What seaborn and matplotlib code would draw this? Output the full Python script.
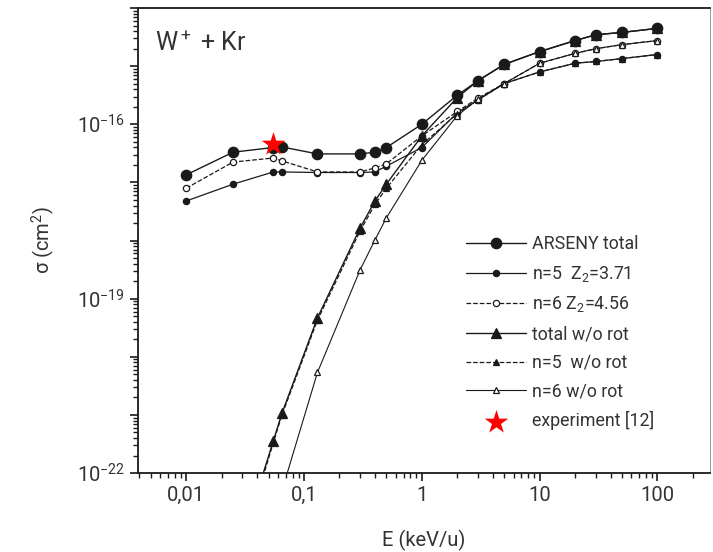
import matplotlib
matplotlib.use("Agg")
import matplotlib.pyplot as plt
import matplotlib.ticker as mticker
import numpy as np
import seaborn as sns

# energies (keV/u)
E_rot = [0.01, 0.025, 0.055, 0.065, 0.13, 0.3, 0.4, 0.5, 1, 2, 3, 5, 10, 20, 30, 50, 100]
E_wo = [0.04, 0.055, 0.065, 0.13, 0.3, 0.4, 0.5, 1, 2, 3, 5, 10, 20, 30, 50, 100]

# log10 of cross sections (cm^2)
log_total = [-16.87, -16.48, -16.40, -16.39, -16.51, -16.51, -16.48, -16.40, -16.0,
             -15.50, -15.25, -14.97, -14.75, -14.56, -14.46, -14.42, -14.35]
log_n5 = [-17.32, -17.03, -16.82, -16.82, -16.83, -16.83, -16.82, -16.72, -16.40,
          -15.80, -15.58, -15.30, -15.10, -14.95, -14.92, -14.87, -14.80]
log_n6 = [-17.10, -16.65, -16.58, -16.63, -16.82, -16.82, -16.75, -16.68, -16.20,
          -15.78, -15.55, -15.30, -14.95, -14.78, -14.70, -14.63, -14.56]
log_total_wo = [-22.34, -21.44, -20.97, -19.33, -17.78, -17.32, -17.03, -16.20,
                -15.54, -15.25, -14.97, -14.75, -14.56, -14.46, -14.42, -14.35]
log_n5_wo = [-22.40, -21.47, -21.00, -19.37, -17.83, -17.38, -17.10, -16.35,
             -15.82, -15.58, -15.30, -15.10, -14.95, -14.92, -14.87, -14.80]
log_n6_wo = [-23.80, -22.90, -22.30, -20.27, -18.50, -17.99, -17.61, -16.62,
             -15.85, -15.57, -15.30, -14.95, -14.78, -14.70, -14.63, -14.56]

E_exp = [0.055]
sigma_exp = [4.6e-17]

labels = ["ARSENY total", "n=5  Z$_2$=3.71", "n=6 Z$_2$=4.56",
          "total w/o rot", "n=5  w/o rot", "n=6 w/o rot", "experiment [12]"]

sns.set_theme(style="ticks")
plt.rcParams["font.family"] = ["Roboto", "DejaVu Sans"]
plt.rcParams["mathtext.fontset"] = "custom"
plt.rcParams["mathtext.rm"] = "Roboto"
plt.rcParams["mathtext.it"] = "Roboto:italic"
plt.rcParams["mathtext.default"] = "regular"

txt = "#333333"
ln = "#1a1a1a"

fig = plt.figure(figsize=(7.13, 5.52), dpi=100)
ax = fig.add_axes([0.1936, 0.143, 0.8024, 0.8425])

series = [
    (E_rot, log_total, dict(marker="o", markersize=7.5, linestyle="-", mfc=ln, lw=1.0)),
    (E_rot, log_n5, dict(marker="o", markersize=4.5, linestyle="-", mfc=ln, lw=0.9)),
    (E_rot, log_n6, dict(marker="o", markersize=4.5, linestyle="--", mfc="white", lw=0.9)),
    (E_wo, log_total_wo, dict(marker="^", markersize=7.5, linestyle="-", mfc=ln, lw=1.0)),
    (E_wo, log_n5_wo, dict(marker="^", markersize=5, linestyle="--", mfc=ln, lw=0.9)),
    (E_wo, log_n6_wo, dict(marker="^", markersize=5, linestyle="-", mfc="white", lw=0.8)),
]
for (x, ylog, kw), lab in zip(series, labels):
    y = 10.0 ** np.array(ylog)
    sns.lineplot(x=x, y=y, ax=ax, color=ln, mec=ln, mew=0.9,
                 label=lab, **kw)

sns.scatterplot(x=E_exp, y=sigma_exp, ax=ax, marker="*", s=320, color="red",
                edgecolor="red", linewidth=0, label=labels[-1], zorder=5)

ax.set_xscale("log")
ax.set_yscale("log")
ax.set_xlim(0.0039, 280)
ax.set_ylim(1e-22, 1e-14)

ax.xaxis.set_major_locator(mticker.FixedLocator([0.01, 0.1, 1, 10, 100]))
ax.xaxis.set_major_formatter(mticker.FixedFormatter(["0,01", "0,1", "1", "10", "100"]))
ax.xaxis.set_minor_locator(mticker.LogLocator(base=10, subs=np.arange(2, 10), numticks=20))
ax.xaxis.set_minor_formatter(mticker.NullFormatter())

ax.yaxis.set_major_locator(mticker.LogLocator(base=10, numticks=20))
ax.yaxis.set_major_formatter(mticker.FuncFormatter(
    lambda v, p: f"$10^{{{int(round(np.log10(v)))}}}$" if int(round(np.log10(v))) in (-16, -19, -22) else ""))
ax.yaxis.set_minor_locator(mticker.LogLocator(base=10, subs=np.arange(2, 10), numticks=20))
ax.yaxis.set_minor_formatter(mticker.NullFormatter())

ax.tick_params(which="major", direction="out", length=6, width=1.2, colors=ln,
               labelsize=14.5, labelcolor=txt)
ax.tick_params(which="minor", direction="out", length=3.5, width=1.0, colors=ln)
for s in ax.spines.values():
    s.set_linewidth(1.3)
    s.set_color(ln)
ax.spines["right"].set_linewidth(0.6)
ax.spines["right"].set_color("#888888")

ax.set_xlabel("E (keV/u)", fontsize=14.5, color=txt, labelpad=18)
ax.set_ylabel("σ (cm$^2$)", fontsize=14.5, color=txt, labelpad=14)

ax.text(0.03, 0.925, "W$^+$ + Kr", transform=ax.transAxes, fontsize=18,
        color=txt, va="center", ha="left")

leg = ax.legend(loc="upper left", bbox_to_anchor=(0.56, 0.527), frameon=False,
                fontsize=12.8, handlelength=3.4, labelspacing=0.6,
                handletextpad=0.35, borderaxespad=0)
for t in leg.get_texts():
    t.set_color(txt)

fig.savefig("out.png", dpi=100)
